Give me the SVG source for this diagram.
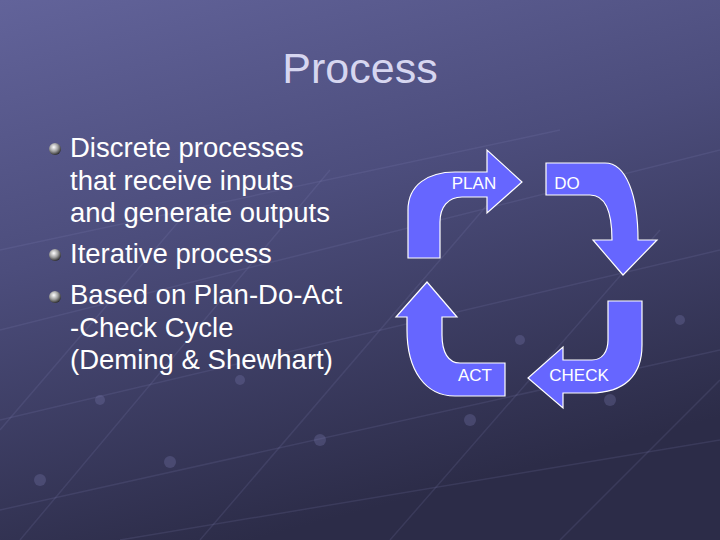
<svg xmlns="http://www.w3.org/2000/svg" width="720" height="540" viewBox="0 0 720 540">
<defs>
<linearGradient id="bg" x1="0" y1="0" x2="0.35" y2="1">
<stop offset="0" stop-color="#62639a"/>
<stop offset="0.45" stop-color="#4c4d7c"/>
<stop offset="1" stop-color="#2c2c48"/>
</linearGradient>
<radialGradient id="ball" cx="0.4" cy="0.35" r="0.7">
<stop offset="0" stop-color="#ffffff"/>
<stop offset="0.5" stop-color="#a0a0a0"/>
<stop offset="1" stop-color="#202020"/>
</radialGradient>
<style>
.arrow{fill:#6666ff;stroke:#ffffff;stroke-width:1.2;stroke-linejoin:miter}
.lbl{font-family:"Liberation Sans",Arial,sans-serif;font-size:17px;fill:#ffffff}
.body{font-family:"Liberation Sans",Arial,sans-serif;font-size:27.5px;fill:#ffffff}
.grid{stroke:#8a8ac0;stroke-opacity:0.15;stroke-width:1.5;fill:none}
.dot{fill:#7a7ab0;fill-opacity:0.3}
</style>
</defs>
<rect width="720" height="540" fill="url(#bg)"/>
<g class="grid">
<path d="M0 330 L720 150 M0 420 L720 250 M0 510 L720 350 M120 540 L720 440 M0 250 L560 130"/>
<path d="M20 540 L330 170 M200 540 L500 190 M390 540 L660 230 M560 540 L720 380 M0 430 L180 220"/>
</g>
<g>
<circle class="dot" cx="40" cy="480" r="6"/><circle class="dot" cx="170" cy="462" r="6"/><circle class="dot" cx="320" cy="440" r="6"/>
<circle class="dot" cx="470" cy="420" r="6"/><circle class="dot" cx="610" cy="400" r="6"/><circle class="dot" cx="100" cy="400" r="5"/>
<circle class="dot" cx="240" cy="380" r="5"/><circle class="dot" cx="520" cy="340" r="5"/><circle class="dot" cx="680" cy="320" r="5"/>
</g>
<text x="360" y="83" text-anchor="middle" font-family="'Liberation Sans',Arial,sans-serif" font-size="43" fill="#d6d6f0">Process</text>
<g id="bullets">
<circle cx="55" cy="149" r="6" fill="url(#ball)"/>
<circle cx="55" cy="255" r="6" fill="url(#ball)"/>
<circle cx="55" cy="297" r="6" fill="url(#ball)"/>
<text class="body" x="70" y="157">Discrete processes</text>
<text class="body" x="70" y="190">that receive inputs</text>
<text class="body" x="70" y="222">and generate outputs</text>
<text class="body" x="70" y="263">Iterative process</text>
<text class="body" x="70" y="304">Based on Plan-Do-Act</text>
<text class="body" x="70" y="337">-Check Cycle</text>
<text class="body" x="70" y="369">(Deming &amp; Shewhart)</text>
</g>
<g id="plan">
<path class="arrow" d="M408 258 L408 210 C408 185 428 172 455 172 L487 172 L487 150 L522 182 L487 213 L487 197 L462 197 C448 197 440 207 440 222 L440 258 Z"/>
<text class="lbl" x="474" y="189" text-anchor="middle">PLAN</text>
</g>
<g id="do">
<path class="arrow" d="M546 163 L605 163 C626 163 638 195 638 240 L657 240 L623 275 L593 240 L612 240 C612 212 605 195 590 195 L546 195 Z"/>
<text class="lbl" x="567" y="189" text-anchor="middle">DO</text>
</g>
<g id="check">
<path class="arrow" d="M642 301 L642 345 C642 375 625 393 590 393 L563 393 L563 408 L528 378 L563 347 L563 360 L592 360 C602 360 608 352 608 340 L608 301 Z"/>
<text class="lbl" x="579" y="381" text-anchor="middle">CHECK</text>
</g>
<g id="act">
<path class="arrow" d="M427 282 L457 317 L442 317 L442 335 C442 352 448 363 460 363 L505 363 L505 396 L455 396 C425 396 407 370 407 330 L407 317 L396 317 Z"/>
<text class="lbl" x="475" y="381" text-anchor="middle">ACT</text>
</g>
</svg>
